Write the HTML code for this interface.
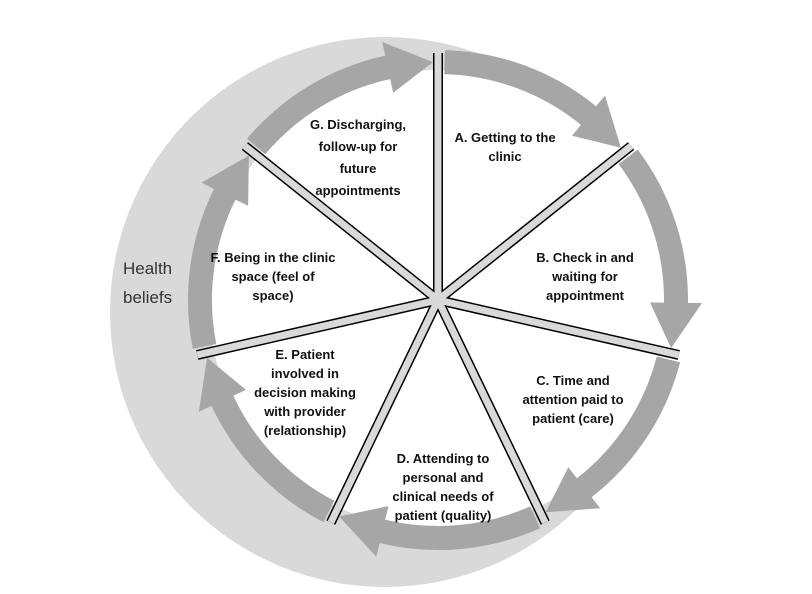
<!DOCTYPE html>
<html><head><meta charset="utf-8"><style>
html,body{margin:0;padding:0;background:#fff;}
#w{position:relative;width:812px;height:594px;overflow:hidden;font-family:"Liberation Sans",Arial,sans-serif;}
svg{position:absolute;left:0;top:0;}
.t{position:absolute;font-weight:bold;font-size:13px;line-height:19px;text-align:center;color:#111;transform:translateX(-50%);white-space:nowrap;}
</style></head><body><div id="w">
<svg id="s" width="812" height="594" viewBox="0 0 812 594">
<circle cx="385" cy="312" r="275" fill="#d9d9d9"/>
<circle cx="438" cy="300" r="230" fill="#fff"/>
<g id="arr" fill="#a6a6a6"></g>
<g id="spk"></g>
</svg>
<div class="t" style="left:358px;top:114px;line-height:22px">G. Discharging,<br>follow-up for<br>future<br>appointments</div>
<div class="t" style="left:505px;top:128px">A. Getting to the<br>clinic</div>
<div class="t" style="left:585px;top:248px">B. Check in and<br>waiting for<br>appointment</div>
<div class="t" style="left:573px;top:371px">C. Time and<br>attention paid to<br>patient (care)</div>
<div class="t" style="left:443px;top:449px">D. Attending to<br>personal and<br>clinical needs of<br>patient (quality)</div>
<div class="t" style="left:305px;top:345px">E. Patient<br>involved in<br>decision making<br>with provider<br>(relationship)</div>
<div class="t" style="left:273px;top:248px">F. Being in the clinic<br>space (feel of<br>space)</div>
<div style="position:absolute;left:123px;top:254px;font-size:17px;line-height:29px;color:#333;">Health<br>beliefs</div>
</div>
<script>
var cx=438,cy=300,NS="http://www.w3.org/2000/svg";
function P(a,r){var t=a*Math.PI/180;return [cx+r*Math.sin(t),cy-r*Math.cos(t)];}
function f(p){return p[0].toFixed(1)+","+p[1].toFixed(1);}
var step=360/7,ri=226,ro=250,hi=212,ho=264,hl=11;
var ga=document.getElementById("arr"),gs=document.getElementById("spk");
for(var i=0;i<7;i++){
 var a0=i*step+1.6,a1=(i+1)*step-1.2,ab=a1-hl;
 var d="M"+f(P(a0,ri))+" L"+f(P(a0,ro))+" A"+ro+","+ro+" 0 0 1 "+f(P(ab,ro))+
 " L"+f(P(ab,ho))+" L"+f(P(a1,(ri+ro)/2))+" L"+f(P(ab,hi))+" L"+f(P(ab,ri))+
 " A"+ri+","+ri+" 0 0 0 "+f(P(a0,ri))+"Z";
 var p=document.createElementNS(NS,"path");p.setAttribute("d",d);ga.appendChild(p);
}
// spokes: outline then fill
for(var pass=0;pass<2;pass++){
 for(var i=0;i<7;i++){
  var e=P(i*step,247);
  var l=document.createElementNS(NS,"line");
  l.setAttribute("x1",cx);l.setAttribute("y1",cy);l.setAttribute("x2",e[0]);l.setAttribute("y2",e[1]);
  l.setAttribute("stroke",pass?"#d9d9d9":"#000");l.setAttribute("stroke-width",pass?7:10);
  gs.appendChild(l);
 }
}
</script>
</body></html>
